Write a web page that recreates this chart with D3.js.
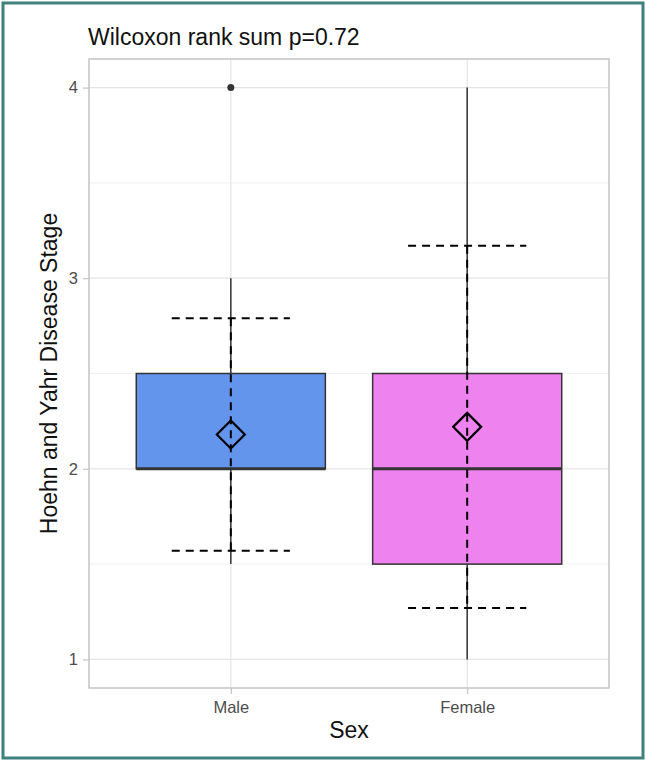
<!DOCTYPE html>
<html>
<head>
<meta charset="utf-8">
<script src="https://cdn.jsdelivr.net/npm/d3@7"></script>
<style>
  body { margin: 0; background: #fff; }
  svg text { font-family: "Liberation Sans", Arial, sans-serif; }
</style>
</head>
<body>
<div id="chart"></div>
<script>
// Data
const categories = ["Male", "Female"];
const q1 = [2, 1.5];
const medians = [2, 2];
const q3 = [2.5, 2.5];
const whiskerLow = [1.5, 1];
const whiskerHigh = [3, 4];
const outliers = [[4], []];
const means = [2.18, 2.22];
const sds = [0.61, 0.95];
const fills = ["#6495ED", "#EE82EE"];
const yTicks = [1, 2, 3, 4];
const yMinor = [1.5, 2.5, 3.5];

// Dimensions
const W = 646, H = 761;
const panel = { left: 89, right: 609, top: 59, bottom: 688 };

const svg = d3.select("#chart").append("svg")
    .attr("width", W)
    .attr("height", H);

// outer frame
svg.append("rect")
    .attr("x", 3).attr("y", 3)
    .attr("width", W - 6).attr("height", H - 6)
    .attr("fill", "#fff")
    .attr("stroke", "#3f817c")
    .attr("stroke-width", 3);

// Scales
const x = d3.scaleLinear()
    .domain([0.4, 2.6])
    .range([panel.left, panel.right]);

const y = d3.scaleLinear()
    .domain([0.85, 4.15])
    .range([panel.bottom, panel.top]);

const unit = x(1) - x(0);

// Grid
const grid = svg.append("g");
grid.selectAll(".minor")
    .data(yMinor)
    .enter().append("line")
    .attr("x1", panel.left).attr("x2", panel.right)
    .attr("y1", d => y(d)).attr("y2", d => y(d))
    .attr("stroke", "#f0f0f0").attr("stroke-width", 1);
grid.selectAll(".major")
    .data(yTicks)
    .enter().append("line")
    .attr("x1", panel.left).attr("x2", panel.right)
    .attr("y1", d => y(d)).attr("y2", d => y(d))
    .attr("stroke", "#e4e4e4").attr("stroke-width", 1.2);
grid.selectAll(".vmajor")
    .data(categories)
    .enter().append("line")
    .attr("x1", (d, i) => x(i + 1)).attr("x2", (d, i) => x(i + 1))
    .attr("y1", panel.top).attr("y2", panel.bottom)
    .attr("stroke", "#e4e4e4").attr("stroke-width", 1.2);

// Boxes
const groups = svg.selectAll(".grp")
    .data(categories)
    .enter().append("g");

// whiskers
groups.append("line")
    .attr("x1", (d, i) => x(i + 1)).attr("x2", (d, i) => x(i + 1))
    .attr("y1", (d, i) => y(whiskerHigh[i])).attr("y2", (d, i) => y(q3[i]))
    .attr("stroke", "#333").attr("stroke-width", 1.5);
groups.append("line")
    .attr("x1", (d, i) => x(i + 1)).attr("x2", (d, i) => x(i + 1))
    .attr("y1", (d, i) => y(q1[i])).attr("y2", (d, i) => y(whiskerLow[i]))
    .attr("stroke", "#333").attr("stroke-width", 1.5);

groups.append("rect")
    .attr("x", (d, i) => x(i + 1) - 0.4 * unit)
    .attr("width", 0.8 * unit)
    .attr("y", (d, i) => y(q3[i]))
    .attr("height", (d, i) => y(q1[i]) - y(q3[i]))
    .attr("fill", (d, i) => fills[i])
    .attr("stroke", "#333").attr("stroke-width", 1.5);

groups.append("line")
    .attr("x1", (d, i) => x(i + 1) - 0.4 * unit)
    .attr("x2", (d, i) => x(i + 1) + 0.4 * unit)
    .attr("y1", (d, i) => y(medians[i])).attr("y2", (d, i) => y(medians[i]))
    .attr("stroke", "#333").attr("stroke-width", 3);

// outliers
categories.forEach((c, i) => {
    svg.selectAll(null)
        .data(outliers[i])
        .enter().append("circle")
        .attr("cx", x(i + 1))
        .attr("cy", d => y(d))
        .attr("r", 3.5)
        .attr("fill", "#333");
});

// mean +/- sd dashed
const dash = "8,6";
groups.append("line")
    .attr("x1", (d, i) => x(i + 1)).attr("x2", (d, i) => x(i + 1))
    .attr("y1", (d, i) => y(means[i] + sds[i])).attr("y2", (d, i) => y(means[i] - sds[i]))
    .attr("stroke", "#000").attr("stroke-width", 2)
    .attr("stroke-dasharray", dash);
[1, -1].forEach(s => {
    groups.append("line")
        .attr("x1", (d, i) => x(i + 1) - 0.25 * unit)
        .attr("x2", (d, i) => x(i + 1) + 0.25 * unit)
        .attr("y1", (d, i) => y(means[i] + s * sds[i]))
        .attr("y2", (d, i) => y(means[i] + s * sds[i]))
        .attr("stroke", "#000").attr("stroke-width", 2)
        .attr("stroke-dasharray", dash);
});

// mean diamond
const dsize = 14;
groups.append("path")
    .attr("d", (d, i) => {
        const cx = x(i + 1), cy = y(means[i]);
        return `M${cx},${cy - dsize}L${cx + dsize},${cy}L${cx},${cy + dsize}L${cx - dsize},${cy}Z`;
    })
    .attr("fill", "none")
    .attr("stroke", "#000").attr("stroke-width", 2.2);

// panel border
svg.append("rect")
    .attr("x", panel.left).attr("y", panel.top)
    .attr("width", panel.right - panel.left)
    .attr("height", panel.bottom - panel.top)
    .attr("fill", "none")
    .attr("stroke", "#c4c4c4").attr("stroke-width", 1.5);

// Axes
const yAxis = svg.append("g")
    .attr("transform", `translate(${panel.left},0)`)
    .call(d3.axisLeft(y).tickValues(yTicks).tickFormat(d3.format("d")).tickSize(6).tickPadding(5));
const xAxis = svg.append("g")
    .attr("transform", `translate(0,${panel.bottom})`)
    .call(d3.axisBottom(x).tickValues([1, 2]).tickFormat(d => categories[d - 1]).tickSize(6).tickPadding(7));

[yAxis, xAxis].forEach(a => {
    a.select(".domain").remove();
    a.selectAll(".tick line").attr("stroke", "#c4c4c4").attr("stroke-width", 1.2);
    a.selectAll(".tick text")
        .attr("fill", "#4d4d4d")
        .style("font-size", "16.5px");
});

// Titles
svg.append("text")
    .attr("x", 88).attr("y", 45)
    .attr("fill", "#111")
    .style("font-size", "23px")
    .text("Wilcoxon rank sum p=0.72");

svg.append("text")
    .attr("x", (panel.left + panel.right) / 2)
    .attr("y", 738)
    .attr("text-anchor", "middle")
    .attr("fill", "#111")
    .style("font-size", "23px")
    .text("Sex");

svg.append("text")
    .attr("transform", `translate(57,${(panel.top + panel.bottom) / 2}) rotate(-90)`)
    .attr("text-anchor", "middle")
    .attr("fill", "#111")
    .style("font-size", "23px")
    .text("Hoehn and Yahr Disease Stage");
</script>
</body>
</html>
